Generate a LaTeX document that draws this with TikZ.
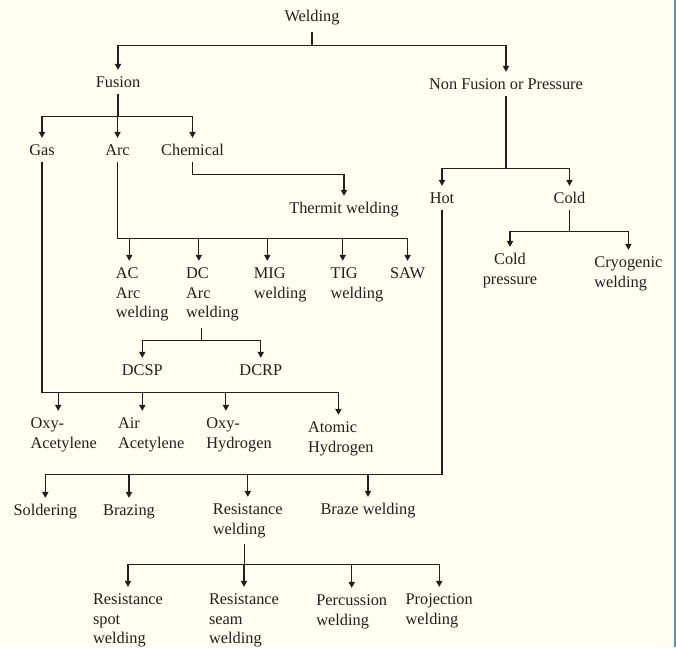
\documentclass[tikz,border=0pt]{standalone}
\usepackage{fontspec}
\setmainfont{Liberation Serif}
\usepackage{xcolor}
\usepackage{tikz}
\usetikzlibrary{arrows.meta,calc}

\definecolor{inkc}{HTML}{231F20}
\definecolor{paperc}{HTML}{FFFEF0}
\definecolor{edgec}{HTML}{2AA7E1}

\tikzset{
  lbl/.style={inner xsep=0pt, inner ysep=3.5pt, text=inkc, anchor=north,
              font=\fontsize{9.3}{11.34}\selectfont},
  lblL/.style={lbl, align=left, anchor=north west},
  link/.style={draw=inkc, line width=0.6pt},
  arr/.style={link, -{Triangle[length=3.4pt,width=3.6pt]}}
}

\begin{document}
\begin{tikzpicture}[x=0.02cm, y=-0.02cm]
  \useasboundingbox (0,0) rectangle (676,647);
  \fill[paperc] (0,0) rectangle (676,647);
  \fill[edgec] (674,0) rectangle (676,647);

  % top levels
  \node[lbl] (weld) at (312,3.8) {Welding};
  \node[lbl] (fus) at (118,69.8) {Fusion};
  \node[lbl] (nonf) at (506,71.8) {Non Fusion or Pressure};
  \node[lbl] (gas) at (42,137.8) {Gas};
  \node[lbl] (arc) at (117.5,137.8) {Arc};
  \node[lbl] (chem) at (192.5,137.8) {Chemical};
  \node[lbl] (therm) at (344,195.8) {Thermit welding};
  \node[lbl] (hot) at (442,185.8) {Hot};
  \node[lbl] (cold) at (569.5,185.8) {Cold};

  % arc welding kinds
  \node[lblL] (ac) at (115.5,260.8) {AC\\Arc\\welding};
  \node[lblL] (dc) at (185.8,260.8) {DC\\Arc\\welding};
  \node[lblL] (mig) at (253.5,260.8) {MIG\\welding};
  \node[lblL] (tig) at (330.2,260.8) {TIG\\welding};
  \node[lbl] (saw) at (407.6,260.8) {SAW};
  \node[lbl] (dcsp) at (142.3,357.8) {DCSP};
  \node[lbl] (dcrp) at (260.8,357.8) {DCRP};

  % cold kinds
  \node[lbl, align=center] (coldp) at (510,246.8) {Cold\\pressure};
  \node[lblL] (cryo) at (594,249.8) {Cryogenic\\welding};

  % gas kinds
  \node[lblL] (oxyac) at (30.2,410.8) {Oxy-\\Acetylene};
  \node[lblL] (airac) at (117.7,410.8) {Air\\Acetylene};
  \node[lblL] (oxyhy) at (206,410.8) {Oxy-\\Hydrogen};
  \node[lblL] (atom) at (307.8,414.8) {Atomic\\Hydrogen};

  % hot kinds
  \node[lbl] (sold) at (45.3,497.8) {Soldering};
  \node[lbl] (braz) at (129,497.8) {Brazing};
  \node[lblL] (resw) at (212.5,496.8) {Resistance\\welding};
  \node[lbl] (brzw) at (368,496.8) {Braze welding};

  % resistance kinds
  \node[lblL] (spot) at (92.7,586.8) {Resistance\\spot\\welding};
  \node[lblL] (seam) at (208.7,586.8) {Resistance\\seam\\welding};
  \node[lblL] (perc) at (316,587.8) {Percussion\\welding};
  \node[lblL] (proj) at (405.3,586.8) {Projection\\welding};

  % junctions
  \coordinate (jw) at (312,45.5);
  \coordinate (jf) at (118,116.5);
  \coordinate (jc) at (192.5,174.5);
  \coordinate (jn) at (506,168.5);
  \coordinate (ja) at (117.5,238.5);
  \coordinate (jd) at (201.8,340.5);
  \coordinate (jco) at (569.5,231.5);
  \coordinate (jg) at (42,392.5);
  \coordinate (jh) at (442,474.5);
  \coordinate (jr) at (244.4,564.5);

  \draw[link] (weld.south) -- (jw);
  \draw[arr] (jw) -| (fus.north);
  \draw[arr] (jw) -| (nonf.north);

  \draw[link] (fus.south) -- (jf);
  \foreach \n in {gas,arc,chem}
    \draw[arr] (jf) -| (\n.north);
  \draw[arr] (chem.south) -- (jc) -| (therm.north);

  \draw[link] (nonf.south) -- (jn);
  \draw[arr] (jn) -| (hot.north);
  \draw[arr] (jn) -| (cold.north);

  \draw[link] (arc.south) -- (ja);
  \foreach \n/\dx in {ac/13.8,dc/13,mig/13.8,tig/12.5}
    \draw[arr] (ja) -| ($(\n.north west)+(\dx,0)$);
  \draw[arr] (ja) -| (saw.north);

  \draw[link] (dc.south -| jd) -- (jd);
  \draw[arr] (jd) -| (dcsp.north);
  \draw[arr] (jd) -| (dcrp.north);

  \draw[link] (cold.south) -- (jco);
  \draw[arr] (jco) -| (coldp.north);
  \draw[arr] (jco) -| (cryo.north);

  \draw[link] (gas.south) -- (jg);
  \foreach \n/\dx in {oxyac/28,airac/24.6,oxyhy/19.9,atom/30.6}
    \draw[arr] (jg) -| ($(\n.north west)+(\dx,0)$);

  \draw[link] (hot.south) -- (jh);
  \foreach \n in {sold,braz,resw,brzw}
    \draw[arr] (jh) -| (\n.north);

  \draw[link] (resw.south -| jr) -- (jr);
  \foreach \n in {spot,seam,perc,proj}
    \draw[arr] (jr) -| (\n.north);
\end{tikzpicture}
\end{document}
